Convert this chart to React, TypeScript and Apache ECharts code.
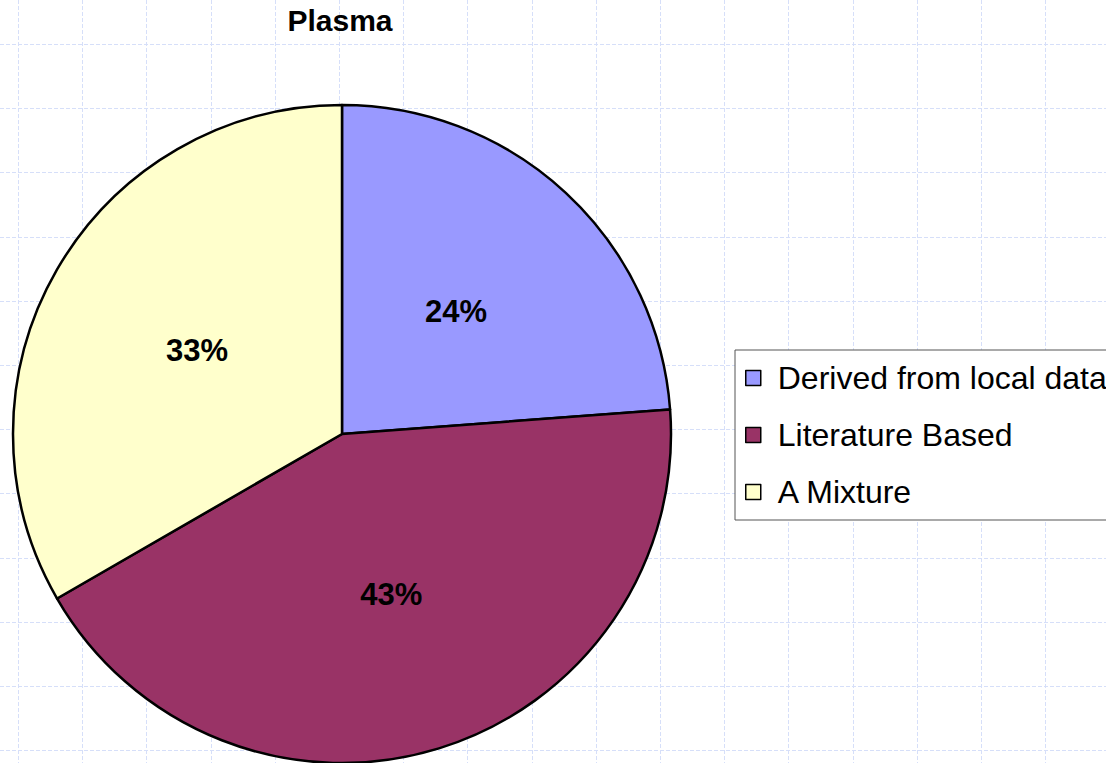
import React, { useEffect, useRef } from "react";
import * as echarts from "echarts";

const categories = ["Derived from local data", "Literature Based", "A Mixture"];
const values = [5, 9, 7];
const colors = ["#9999ff", "#993366", "#ffffcc"];
const titleText = "Plasma";

export default function App() {
  const ref = useRef<HTMLDivElement>(null);
  useEffect(() => {
    if (!ref.current) return;
    const chart = echarts.init(ref.current, undefined, { renderer: "svg" });
    const W = 1106;
    const H = 763;
    const step = 64.2;
    const grid: any[] = [];
    for (let x = 18; x < W; x += step) {
      grid.push({
        type: "line",
        z: -10,
        silent: true,
        shape: { x1: Math.round(x) + 0.5, y1: 0, x2: Math.round(x) + 0.5, y2: H },
        style: { stroke: "#d6dff9", lineWidth: 1, lineDash: [4, 2] },
      });
    }
    for (let y = 44; y < H; y += step) {
      grid.push({
        type: "line",
        z: -10,
        silent: true,
        shape: { x1: 0, y1: Math.round(y) + 0.5, x2: W, y2: Math.round(y) + 0.5 },
        style: { stroke: "#d6dff9", lineWidth: 1, lineDash: [4, 2] },
      });
    }
    chart.setOption({
      animation: false,
      backgroundColor: "#ffffff",
      graphic: grid,
      title: {
        text: titleText,
        left: 340,
        top: 5,
        padding: 0,
        textAlign: "center",
        textStyle: {
          fontFamily: "Liberation Sans, Arial, sans-serif",
          fontSize: 30,
          fontWeight: "bold",
          color: "#000",
        },
      },
      legend: {
        orient: "vertical",
        left: 735,
        top: 350,
        padding: [12, 60, 12, 10],
        borderColor: "#555",
        borderWidth: 1,
        backgroundColor: "#ffffff",
        itemWidth: 15,
        itemHeight: 15,
        itemGap: 25,
        icon: "rect",
        itemStyle: { borderColor: "#000", borderWidth: 1.5 },
        textStyle: {
          fontFamily: "Liberation Sans, Arial, sans-serif",
          fontSize: 32,
          color: "#000",
          padding: [0, 0, 0, 12],
        },
        data: categories,
      },
      series: [
        {
          type: "pie",
          center: [342, 434],
          radius: 329,
          startAngle: 90,
          clockwise: true,
          z: 5,
          label: {
            position: "inside",
            fontFamily: "Liberation Sans, Arial, sans-serif",
            fontSize: 31,
            fontWeight: "bold",
            color: "#000",
            formatter: (p: any) => Math.round(p.percent) + "%",
          },
          labelLine: { show: false },
          emphasis: { disabled: true },
          itemStyle: { borderColor: "#000", borderWidth: 2.5 },
          data: categories.map((c, i) => ({
            name: c,
            value: values[i],
            itemStyle: { color: colors[i] },
          })),
        },
      ],
    });
    return () => chart.dispose();
  }, []);
  return (
    <div
      ref={ref}
      style={{ position: "fixed", left: 0, top: 0, width: 1106, height: 763 }}
    />
  );
}
